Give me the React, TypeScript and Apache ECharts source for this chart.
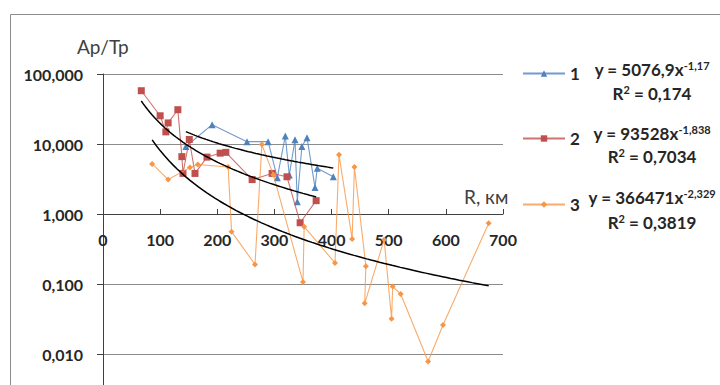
import { useEffect, useRef } from 'react';
import * as echarts from 'echarts';

// Series 1 (blue triangles)
const r1 = [145, 191, 252, 289, 305, 319, 326, 336, 340, 348, 357, 371, 375, 403];
const v1 = [9.2, 18.9, 10.8, 10.8, 3.3, 13.0, 3.6, 11.5, 1.5, 9.2, 12.3, 2.4, 4.5, 3.4];
// Series 2 (red squares)
const r2 = [67, 100, 110, 114, 131, 138, 140, 151, 161, 182, 205, 215, 261, 296, 322, 345, 373];
const v2 = [57.7, 25.3, 14.9, 20.0, 30.9, 6.6, 3.8, 11.6, 3.8, 6.5, 7.4, 7.6, 3.1, 3.8, 3.4, 0.75, 1.55];
// Series 3 (orange)
const r3 = [86, 114, 152, 166, 219, 225, 266, 278, 298, 350, 352, 406, 413, 436, 440, 460, 458, 492, 505, 507, 521, 569, 595, 675];
const v3 = [5.2, 3.1, 4.6, 5.1, 4.7, 0.56, 0.19, 9.8, 3.65, 0.107, 0.66, 0.2, 7.0, 0.44, 4.7, 0.18, 0.053, 0.43, 0.032, 0.092, 0.072, 0.0078, 0.026, 0.74];

const seriesNames = ['1', '2', '3'];
// Power trend lines as printed on the chart: y = a * x^b
const trendA = [5076.9, 93528, 366471];
const trendB = [-1.17, -1.838, -2.329];
const eqCoef = ['5076,9', '93528', '366471'];
const eqExp = ['-1,17', '-1,838', '-2,329'];
const eqR2 = ['0,174', '0,7034', '0,3819'];

const xTickInterval = 100;
const xMax = 700;
const yMin = 0.001;
const yMax = 100;

const FONT = 'Lato, "Open Sans", sans-serif';
const colors = ['#4F81BD', '#C0504D', '#F79646'];
const symbols = ['triangle', 'rect', 'diamond'];
const symbolSizes = [7, 7, 6];

function zip(xs: number[], ys: number[]) {
  return xs.map((x, i) => [x, ys[i]]);
}

function trend(xs: number[], a: number, b: number) {
  const lo = Math.min(...xs);
  const hi = Math.max(...xs);
  const pts: number[][] = [];
  const n = 80;
  for (let i = 0; i <= n; i++) {
    const x = lo + ((hi - lo) * i) / n;
    pts.push([x, a * Math.pow(x, b)]);
  }
  return pts;
}

export default function App() {
  const ref = useRef<HTMLDivElement>(null);
  useEffect(() => {
    if (!ref.current) return;
    const chart = echarts.init(ref.current, undefined, { renderer: 'svg' });
    const xsAll = [r1, r2, r3];
    const vsAll = [v1, v2, v3];

    const dataSeries = seriesNames.map((name, i) => ({
      name,
      type: 'line',
      data: zip(xsAll[i], vsAll[i]),
      symbol: symbols[i],
      symbolSize: symbolSizes[i],
      showSymbol: true,
      itemStyle: { color: colors[i] },
      lineStyle: { color: colors[i], width: 1.1, opacity: 0.8 },
      z: 3 + i,
    }));
    const trendSeries = seriesNames.map((name, i) => ({
      name: 'trend' + name,
      type: 'line',
      data: trend(xsAll[i], trendA[i], trendB[i]),
      symbol: 'none',
      silent: true,
      lineStyle: { color: '#000', width: 1.5 },
      z: 10,
    }));

    const legendTops = [60, 125, 191];
    const eqY = [[69, 93], [133, 156], [197, 222]];

    const rich = {
      b: { fontSize: 17, fontWeight: 'bold', fontFamily: FONT, fill: '#262626', lineHeight: 18, verticalAlign: 'bottom' },
      s: { fontSize: 11, fontWeight: 'bold', fontFamily: FONT, fill: '#262626', lineHeight: 18, verticalAlign: 'top' },
    };
    const eqGraphics: any[] = [];
    seriesNames.forEach((_, i) => {
      eqGraphics.push({
        type: 'text',
        x: 652,
        y: eqY[i][0],
        style: {
          text: `{b|y = ${eqCoef[i]}x}{s|${eqExp[i]}}`,
          rich,
          align: 'center',
          verticalAlign: 'middle',
        },
      });
      eqGraphics.push({
        type: 'text',
        x: 652,
        y: eqY[i][1],
        style: {
          text: `{b|R}{s|2}{b| = ${eqR2[i]}}`,
          rich,
          align: 'center',
          verticalAlign: 'middle',
        },
      });
    });

    chart.setOption({
      animation: false,
      backgroundColor: '#ffffff',
      grid: { left: 103, top: 74, width: 400, height: 350 },
      xAxis: {
        type: 'value',
        min: 0,
        max: xMax,
        interval: xTickInterval,
        position: 'bottom',
        offset: -210,
        axisLine: { show: true, onZero: false, lineStyle: { color: '#404040', width: 1 } },
        axisTick: { show: true, inside: true, length: 5, lineStyle: { color: '#404040' } },
        axisLabel: { margin: 17, fontSize: 16, fontWeight: 'bold', color: '#262626', fontFamily: FONT },
        splitLine: { show: false },
      },
      yAxis: {
        type: 'log',
        logBase: 10,
        min: yMin,
        max: yMax,
        axisLine: { show: true, onZero: false, lineStyle: { color: '#404040', width: 1 } },
        axisTick: { show: true, length: 6, lineStyle: { color: '#404040' } },
        axisLabel: {
          margin: 20,
          fontSize: 16,
          fontWeight: 'bold',
          color: '#262626',
          fontFamily: FONT,
          showMinLabel: false,
          formatter: (v: number) => v.toFixed(3).replace('.', ','),
        },
        splitLine: { show: true, lineStyle: { color: '#8c8c8c', width: 1 } },
      },
      legend: seriesNames.map((name, i) => ({
        data: [name],
        left: 517,
        top: legendTops[i],
        orient: 'horizontal',
        itemWidth: 42,
        itemHeight: 8,
        selectedMode: false,
        textStyle: { fontSize: 17, fontWeight: 'bold', color: '#262626', fontFamily: FONT },
      })),
      graphic: [
        {
          type: 'rect',
          shape: { x: 10.5, y: 14.5, width: 760, height: 500 },
          style: { fill: 'none', stroke: '#8c8c8c', lineWidth: 1 },
          z: -10,
          silent: true,
        },
        {
          type: 'text',
          x: 77,
          y: 46,
          style: { text: 'Ap/Tp', fontSize: 19, fontFamily: FONT, fill: '#404040', align: 'left', verticalAlign: 'middle' },
        },
        {
          type: 'text',
          x: 464,
          y: 196,
          style: { text: 'R, км', fontSize: 19, fontFamily: FONT, fill: '#404040', align: 'left', verticalAlign: 'middle' },
        },
        ...eqGraphics,
      ],
      series: [...dataSeries, ...trendSeries],
    });
    return () => chart.dispose();
  }, []);
  return <div ref={ref} style={{ position: 'fixed', left: 0, top: 0, width: 720, height: 440 }} />;
}
